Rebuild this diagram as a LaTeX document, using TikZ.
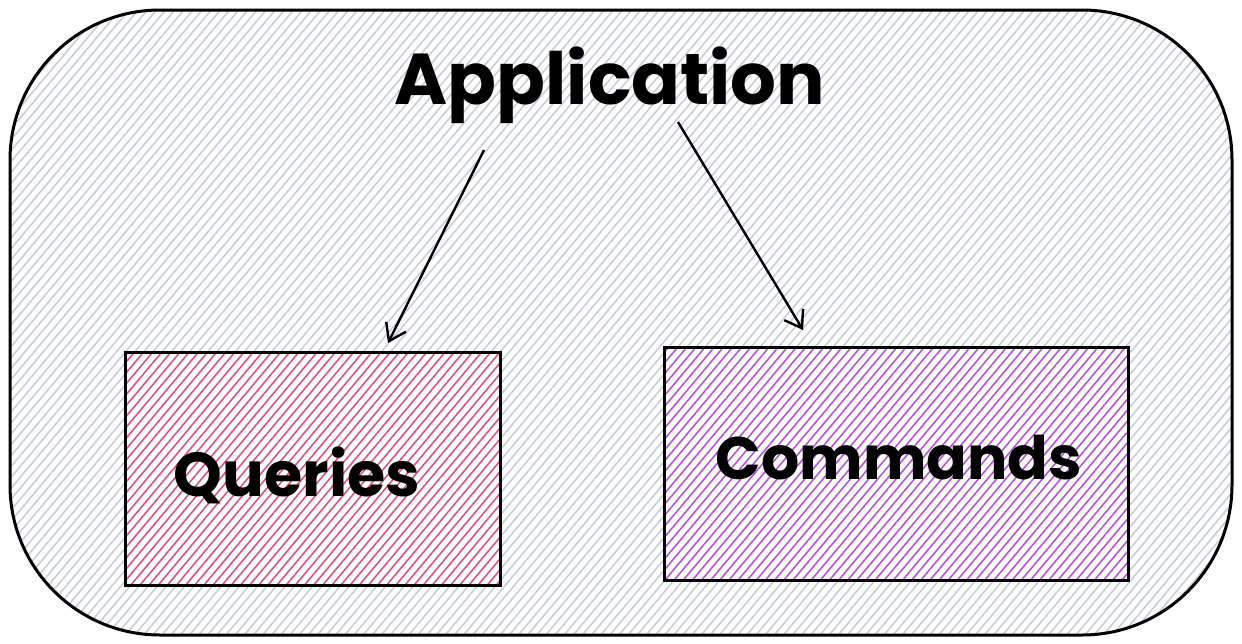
\documentclass[tikz,border=0pt]{standalone}
\usepackage{fontspec}
\setmainfont{Poppins}
\usetikzlibrary{patterns.meta,arrows.meta}
\definecolor{hatchgray}{HTML}{C8CED6}
\definecolor{hatchpink}{HTML}{E64980}
\definecolor{hatchpurple}{HTML}{BE4BDB}
\tikzset{
  outerbox/.style={draw=black, line width=3pt, rounded corners=150pt,
    pattern={Lines[angle=50,distance=7pt,line width=1.6pt]}, pattern color=hatchgray},
  innerbox/.style={draw=black, line width=3pt, minimum width=#1, minimum height=233pt, inner sep=0pt},
  conn/.style={line width=2.4pt, -{Straight Barb[length=16pt,width=22pt,line width=2.4pt]}},
  label/.style={font=\fontsize{#1}{#1}\selectfont\bfseries, text=black, inner sep=0pt}
}
\begin{document}
\begin{tikzpicture}[x=1pt,y=-1pt]
\useasboundingbox[fill=white] (0,0) rectangle (1242,643);
\draw[outerbox] (10,10) rectangle (1232,635);
\node[innerbox=375pt,
  pattern={Lines[angle=50,distance=7pt,line width=1.4pt]}, pattern color=hatchpink]
  (q) at (312.5,468.5) {};
\node[innerbox=464pt,
  pattern={Lines[angle=50,distance=7pt,line width=1.4pt]}, pattern color=hatchpurple]
  (c) at (896,463.5) {};
\node[label=72pt] (app) at (610,85) {Application};
\node[label=62pt] (ql) at (297,475) {Queries};
\node[label=60pt] (cl) at (899,458) {Commands};
\coordinate (s1) at (484,150);
\coordinate (e1) at (388,343);
\coordinate (s2) at (678,122);
\coordinate (e2) at (803,330);
\draw[conn] (s1) -- (e1);
\draw[conn] (s2) -- (e2);
\end{tikzpicture}
\end{document}
